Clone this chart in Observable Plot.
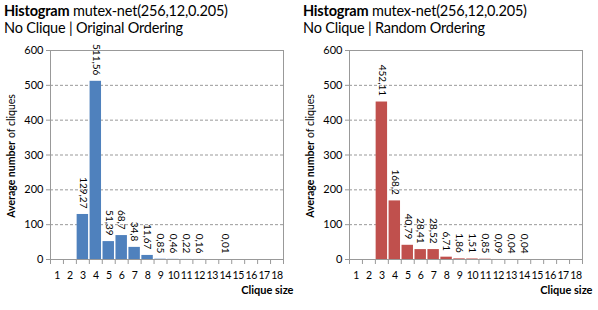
<!DOCTYPE html>
<html>
<head>
<meta charset="utf-8">
<script src="https://cdn.jsdelivr.net/npm/d3@7"></script>
<script src="https://cdn.jsdelivr.net/npm/@observablehq/plot@0.6"></script>
<style>
  body { margin: 0; background: #fff; font-family: Lato, "Open Sans", sans-serif; }
  #wrap { display: flex; width: 598px; height: 310px; }
  .panel { width: 299px; }
  .title { height: 40px; box-sizing: border-box; padding: 3px 0 0 4px; font-size: 14.5px; line-height: 16.5px; color: #000; white-space: nowrap; letter-spacing: -0.2px; }
  .title b { font-weight: bold; }
  .xlab text { letter-spacing: -0.4px; }
</style>
</head>
<body>
<div id="wrap">
  <div class="panel" id="left"></div>
  <div class="panel" id="right"></div>
</div>
<script>
const cliqueSizes = [1,2,3,4,5,6,7,8,9,10,11,12,13,14,15,16,17,18];
const originalOrdering = [0,0,129.27,511.56,51.39,68.7,34.8,11.67,0.85,0.46,0.22,0.16,0,0.01,0,0,0,0];
const randomOrdering   = [0,0,452.11,168.2,40.79,28.41,28.52,6.71,1.86,1.51,0.85,0.09,0.04,0.04,0,0,0,0];
const yTicks = [0,100,200,300,400,500,600];
const titleMain = "Histogram";
const titleRest = " mutex-net(256,12,0.205)";
const subtitles = ["No Clique | Original Ordering", "No Clique | Random Ordering"];
const colors = ["#4F81BD", "#C0504D"];
const xLabel = "Clique size";
const yLabelBold = "Average number";
const yLabelRest = "of cliques";

const fmt = v => String(v).replace(".", ",");

function panel(el, values, subtitle, color) {
  const data = cliqueSizes.map((s, i) => ({size: s, value: values[i]}));
  const t = document.createElement("div");
  t.className = "title";
  t.innerHTML = `<b>${titleMain}</b>${titleRest}<br>${subtitle}`;
  el.appendChild(t);
  const chart = Plot.plot({
    width: 299,
    height: 270,
    marginTop: 10,
    marginLeft: 50,
    marginRight: 16,
    marginBottom: 51,
    style: {fontFamily: "Lato, 'Open Sans', sans-serif", fontSize: "11px", color: "#000", background: "#fff"},
    x: {domain: [0.5, 18.5], axis: null},
    y: {domain: [0, 600], axis: null},
    marks: [
      Plot.gridY(yTicks.filter(d => d > 0 && d < 600), {stroke: "#999", strokeOpacity: 1, strokeDasharray: "3,2"}),
      Plot.rectY(data, {x1: d => d.size - 0.5, x2: d => d.size + 0.5, y: "value", fill: color, insetLeft: 0.75, insetRight: 0.75}),
      Plot.frame({stroke: "#999"}),
      Plot.axisY({ticks: yTicks, tickSize: 4, tickPadding: 3, stroke: "#999", label: null, fill: "#000"}),
      Plot.axisX({ticks: d3.range(0.5, 19, 1), tickSize: 5, tickFormat: () => "", stroke: "#999", label: null}),
      Plot.axisX({ticks: cliqueSizes, tickSize: 0, tickPadding: 12, label: null, fill: "#000", fontSize: 10.5, className: "xlab"}),
      Plot.text(data.filter(d => d.value > 0), {x: "size", y: "value", text: d => fmt(d.value), rotate: 90, textAnchor: "end", dy: -6, fontSize: 10, fill: "#000"}),
      Plot.text([xLabel], {frameAnchor: "bottom-right", dx: 10, dy: 34, textAnchor: "end", fontWeight: "bold", fontSize: 11, fill: "#000"}),
      Plot.text([yLabelBold], {frameAnchor: "left", dx: -39, dy: -14, rotate: -90, textAnchor: "end", fontWeight: "bold", fontSize: 10.5, fill: "#000"}),
      Plot.text([yLabelRest], {frameAnchor: "left", dx: -39, dy: -17, rotate: -90, textAnchor: "start", fontSize: 10.5, fill: "#000"})
    ]
  });
  el.appendChild(chart);
}

panel(document.getElementById("left"), originalOrdering, subtitles[0], colors[0]);
panel(document.getElementById("right"), randomOrdering, subtitles[1], colors[1]);
</script>
</body>
</html>
